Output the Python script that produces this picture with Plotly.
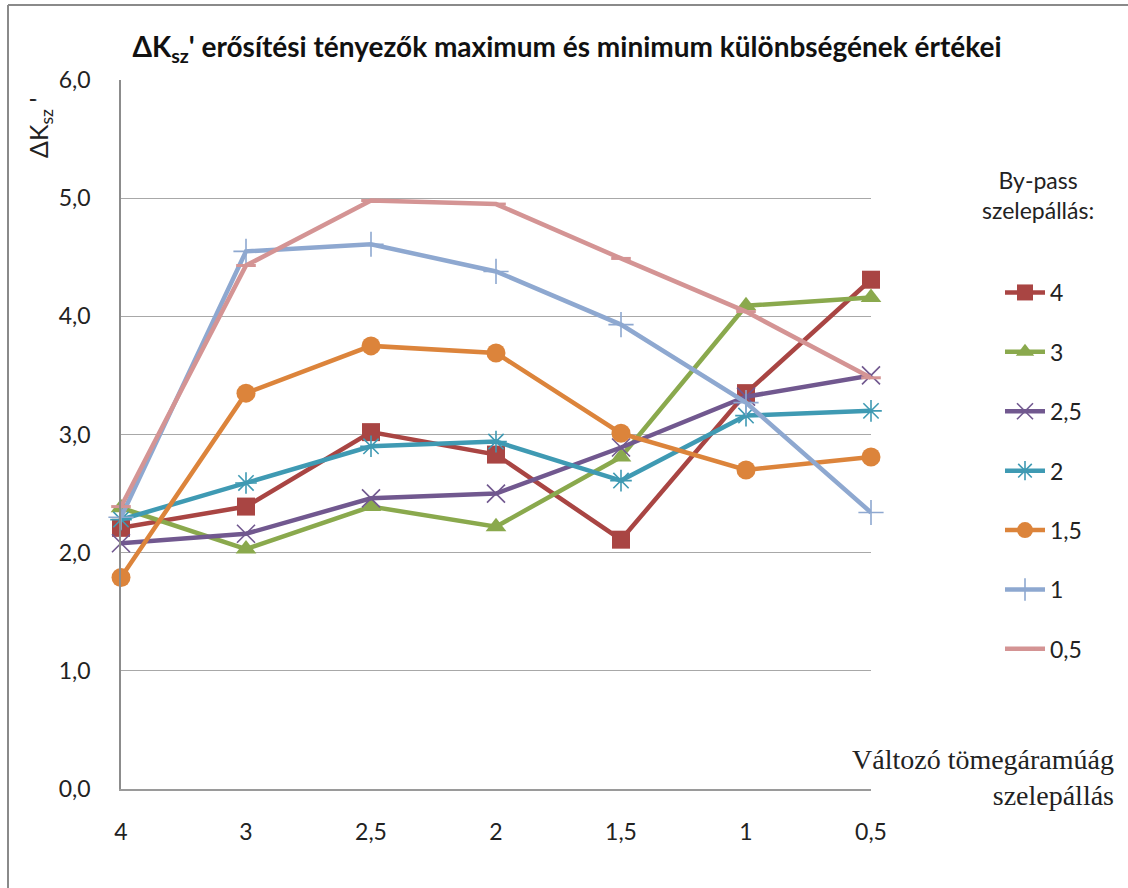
import plotly.graph_objects as go

# x categories: variable mass-flow branch valve position
x_labels = ["4", "3", "2,5", "2", "1,5", "1", "0,5"]

# ΔKsz' values per by-pass valve position
s_4 = [2.21, 2.39, 3.02, 2.83, 2.11, 3.35, 4.31]
s_3 = [2.38, 2.03, 2.39, 2.22, 2.81, 4.09, 4.16]
s_2_5 = [2.08, 2.16, 2.46, 2.50, 2.89, 3.32, 3.50]
s_2 = [2.28, 2.59, 2.90, 2.94, 2.61, 3.16, 3.20]
s_1_5 = [1.79, 3.35, 3.75, 3.69, 3.01, 2.70, 2.81]
s_1 = [2.30, 4.55, 4.61, 4.38, 3.93, 3.27, 2.34]
s_0_5 = [2.39, 4.43, 4.98, 4.95, 4.49, 4.04, 3.48]

series = [
    ("4", s_4, "#A94543", dict(symbol="square", size=18, color="#A94543")),
    ("3", s_3, "#8AA94D", dict(symbol="triangle-up", size=18, color="#8AA94D")),
    ("2,5", s_2_5, "#71588F", dict(symbol="x-thin-open", size=18,
                                  line=dict(color="#9C89C2", width=1.6))),
    ("2", s_2, "#3F9AB3", dict(symbol="asterisk-open", size=18,
                              line=dict(color="#6CC2DA", width=1.6))),
    ("1,5", s_1_5, "#DC843B", dict(symbol="circle", size=19, color="#DC843B")),
    ("1", s_1, "#8EA8D0", dict(symbol="cross-thin-open", size=18,
                              line=dict(color="#8EA8D0", width=1.6))),
    ("0,5", s_0_5, "#D49494", dict(symbol="line-ew-open", size=14,
                                  line=dict(color="#D49494", width=3))),
]

W, H = 1128, 888
ML, MR, MT, MB = 121, 257, 80, 99
PW, PH = W - ML - MR, H - MT - MB

fig = go.Figure()
for name, vals, col, mk in series:
    fig.add_trace(go.Scatter(
        x=x_labels, y=vals, name=name, legendgroup=name,
        mode="lines+markers",
        line=dict(color=col, width=4.5),
        marker=mk,
        cliponaxis=False,
    ))

def px_x(p):
    return (p - ML) / PW

def px_y(p):
    return (H - MB - p) / PH

tick_font = dict(family="Lato, Open Sans, sans-serif", size=23, color="#222222")
border = dict(color="#8A8A8A", width=2)

fig.update_layout(
    width=W, height=H,
    margin=dict(l=ML, r=MR, t=MT, b=MB),
    paper_bgcolor="white", plot_bgcolor="white",
    separators=",.",
    showlegend=True,
    title=dict(
        text="ΔK<sub>sz</sub>' erősítési tényezők maximum és minimum különbségének értékei",
        x=px_x(567), xanchor="center", xref="paper",
        y=1 - 47 / H, yanchor="middle",
        font=dict(family="Lato, sans-serif", size=28, color="#111111", weight="bold"),
    ),
    legend=dict(
        x=px_x(1000), xanchor="left", y=px_y(271), yanchor="top",
        font=tick_font, tracegroupgap=26.5, bgcolor="rgba(0,0,0,0)",
        itemwidth=40,
    ),
    xaxis=dict(
        type="category", range=[0, 6],
        showgrid=False, zeroline=False,
        showline=True, linecolor="#9A9A9A", linewidth=1.5,
        ticks="", tickfont=tick_font, ticklabelstandoff=22,
    ),
    yaxis=dict(
        range=[0, 6], dtick=1, tickformat=".1f",
        showgrid=True, gridcolor="#A8A8A8", gridwidth=1.4,
        zeroline=False, showline=True, linecolor="#8C8C8C", linewidth=1.5,
        ticks="", tickfont=tick_font, ticklabelstandoff=24,
        mirror=False,
    ),
    shapes=[
        # chart frame (top and left edges visible)
        dict(type="line", xref="paper", yref="paper",
             x0=px_x(8), x1=px_x(W + 10), y0=px_y(5), y1=px_y(5), line=border),
        dict(type="line", xref="paper", yref="paper",
             x0=px_x(8), x1=px_x(8), y0=px_y(5), y1=px_y(H + 10), line=border),
    ],
    annotations=[
        dict(text="ΔK<sub>sz</sub> '", textangle=-90, xref="paper", yref="paper",
             x=px_x(40), y=px_y(128), xanchor="center", yanchor="middle",
             showarrow=False, font=dict(family="Lato, sans-serif", size=25, color="#222222")),
        dict(text="By-pass<br>szelepállás:", xref="paper", yref="paper",
             x=px_x(1038), y=px_y(195), xanchor="center", yanchor="middle",
             align="center", showarrow=False, font=tick_font),
        dict(text="Változó tömegáramúág<br>szelepállás", xref="paper", yref="paper",
             x=px_x(1116), y=px_y(777), xanchor="right", yanchor="middle",
             align="right", showarrow=False,
             font=dict(family="Liberation Serif, serif", size=28, color="#222222")),
    ],
)

fig.write_html("out.html")
